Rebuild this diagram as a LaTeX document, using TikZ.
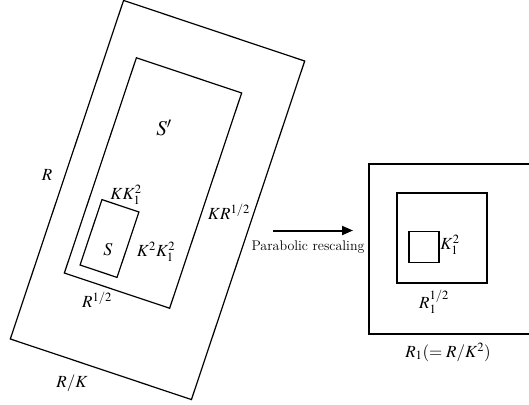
\documentclass[tikz,border=0pt]{standalone}
\usepackage{mathptmx}
\usetikzlibrary{arrows.meta}
\begin{document}
\begin{tikzpicture}[x=1pt,y=-1pt,font=\fontsize{14}{16}\selectfont]
  \def\a{-18.5}

\tikzstyle{box}=[draw,line width=1.2pt,inner sep=0pt,outer sep=0pt]
\tikzstyle{lab}=[inner sep=1pt,font=\fontsize{17}{19}\selectfont]
\useasboundingbox (0,0) rectangle (529,404);
% left: tilted rectangles
\node[box,minimum width=191pt,minimum height=357pt,rotate=\a] (R) at (157.5,200) {};
\node[box,minimum width=111pt,minimum height=227pt,rotate=\a] (Sp) at (153,183) {};
\node[box,minimum width=39pt,minimum height=69pt,rotate=\a] (S) at (109.5,238.5) {};
\node[lab,font=\fontsize{21}{23}\selectfont] (lSp) at (164,128) {$S'$};
\node[lab] (lR) at (47,175) {$R$};
\node[lab] (lKK) at (126,195) {$KK_1^2$};
\node[lab,font=\fontsize{18}{20}\selectfont] (lS) at (108,250) {$S$};
\node[lab] (lKKK) at (156,252) {$K^2K_1^2$};
\node[lab] (lKR) at (229,212) {$KR^{1/2}$};
\node[lab] (lRh) at (97,300) {$R^{1/2}$};
\node[lab] (lRK) at (72,383) {$R/K$};
% arrow
\coordinate (A1) at (273,230.5);
\coordinate (A2) at (353,230.5);
\draw[line width=2pt,-{Triangle[length=11pt,width=9pt]}] (A1) -- (A2);
\node[inner sep=1pt] (par) at (308,247) {Parabolic rescaling};
% right: squares
\node[box,minimum width=170pt,minimum height=170pt] (R1) at (454,249) {};
\node[box,minimum width=90pt,minimum height=90pt] (Q) at (442,238) {};
\node[box,minimum width=30pt,minimum height=31pt] (q) at (424,247) {};
\node[lab] (lK1) at (450,245) {$K_1^2$};
\node[lab] (lR1h) at (434,302) {$R_1^{1/2}$};
\node[lab] (lR1) at (448,352) {$R_1(=R/K^2)$};
\end{tikzpicture}
\end{document}
